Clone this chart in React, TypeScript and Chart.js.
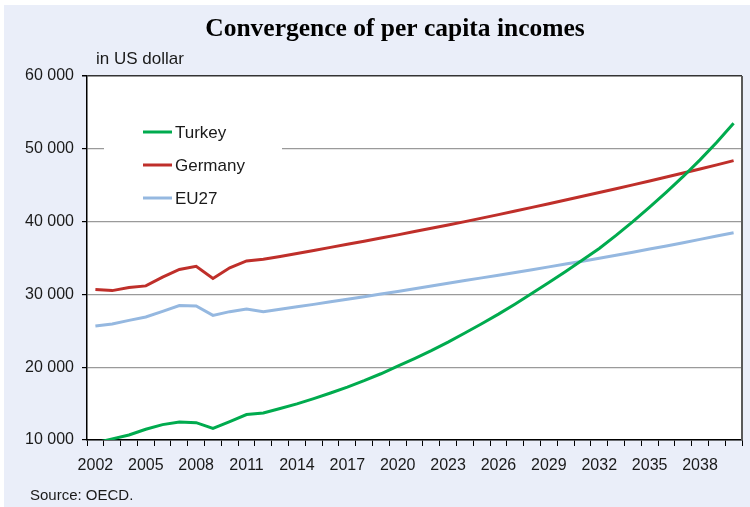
import React, { useEffect, useRef } from "react";
import { Chart, registerables } from "chart.js";

Chart.register(...registerables);

const TITLE = "Convergence of per capita incomes";
const UNIT_LABEL = "in US dollar";
const SOURCE = "Source: OECD.";

const years = [
  "2002", "2003", "2004", "2005", "2006", "2007", "2008", "2009", "2010", "2011",
  "2012", "2013", "2014", "2015", "2016", "2017", "2018", "2019", "2020", "2021",
  "2022", "2023", "2024", "2025", "2026", "2027", "2028", "2029", "2030", "2031",
  "2032", "2033", "2034", "2035", "2036", "2037", "2038", "2039", "2040",
];

const shownYearLabels = ["2002", "2005", "2008", "2011", "2014", "2017", "2020", "2023", "2026", "2029", "2032", "2035", "2038"];

const turkey = [
  9600, 10150, 10690, 11470, 12110, 12480, 12380, 11600, 12520, 13490,
  13720, 14330, 14960, 15690, 16460, 17270, 18150, 19100, 20150, 21180,
  22270, 23450, 24700, 25970, 27290, 28690, 30150, 31620, 33150, 34720,
  36300, 38100, 40000, 41990, 44050, 46200, 48480, 50900, 53500,
];

const germany = [
  30660, 30520, 30940, 31170, 32360, 33420, 33870, 32180, 33650, 34600,
  34820, 35220, 35630, 36040, 36460, 36880, 37310, 37740, 38180, 38630,
  39080, 39540, 40000, 40480, 40960, 41450, 41950, 42450, 42960, 43470,
  43990, 44510, 45040, 45580, 46120, 46670, 47220, 47790, 48370,
];

const eu27 = [
  25660, 25940, 26430, 26900, 27670, 28460, 28410, 27120, 27630, 27990,
  27620, 27950, 28290, 28630, 28980, 29330, 29690, 30050, 30410, 30780,
  31150, 31520, 31900, 32270, 32640, 33020, 33400, 33780, 34170, 34560,
  34960, 35380, 35800, 36230, 36660, 37100, 37560, 38020, 38480,
];

const seriesNames = ["Turkey", "Germany", "EU27"];
const seriesColors = ["#00ab4e", "#bf2f2a", "#95b8e0"];

const yMin = 10000;
const yMax = 60000;
const yStep = 10000;

const SANS = '"Liberation Sans", Arial, sans-serif';
const SERIF = '"Liberation Serif", "Times New Roman", serif';
const TEXT_COLOR = "#1a1a1a";

const fmt = (v: number) => String(v).replace(/\B(?=(\d{3})+(?!\d))/g, " ");

const decorPlugin = {
  id: "decor",
  beforeDraw(chart: any) {
    const { ctx, chartArea } = chart;
    ctx.save();
    ctx.fillStyle = "#ffffff";
    ctx.fillRect(chartArea.left, chartArea.top, chartArea.right - chartArea.left, chartArea.bottom - chartArea.top);
    ctx.restore();
  },
  afterDraw(chart: any) {
    const { ctx, chartArea } = chart;
    ctx.save();
    // right border of plot
    ctx.strokeStyle = "#5a5a5a";
    ctx.lineWidth = 2;
    ctx.beginPath();
    ctx.moveTo(chartArea.right, chartArea.top);
    ctx.lineTo(chartArea.right, chartArea.bottom);
    ctx.stroke();

    // title
    ctx.fillStyle = "#000";
    ctx.font = `bold 25.5px ${SERIF}`;
    ctx.textAlign = "center";
    ctx.textBaseline = "alphabetic";
    ctx.fillText(TITLE, 395, 36);

    // unit label
    ctx.fillStyle = TEXT_COLOR;
    ctx.font = `17px ${SANS}`;
    ctx.textAlign = "left";
    ctx.fillText(UNIT_LABEL, 96, 64);

    // source
    ctx.font = `15px ${SANS}`;
    ctx.fillText(SOURCE, 30, 500);

    // legend
    ctx.fillStyle = "#ffffff";
    ctx.fillRect(104, 112, 178, 104);
    const datasets = chart.data.datasets;
    datasets.forEach((ds: any, i: number) => {
      const y = 132 + i * 33;
      ctx.strokeStyle = ds.borderColor;
      ctx.lineWidth = 3;
      ctx.beginPath();
      ctx.moveTo(143, y);
      ctx.lineTo(172, y);
      ctx.stroke();
      ctx.fillStyle = TEXT_COLOR;
      ctx.font = `17px ${SANS}`;
      ctx.textAlign = "left";
      ctx.textBaseline = "middle";
      ctx.fillText(ds.label, 175, y + 1);
    });
    ctx.restore();
  },
};

export default function App() {
  const ref = useRef<HTMLCanvasElement | null>(null);

  useEffect(() => {
    if (!ref.current) return;
    const seriesData = [turkey, germany, eu27];
    const chart = new Chart(ref.current, {
      type: "line",
      data: {
        labels: years,
        datasets: seriesNames.map((name, i) => ({
          label: name,
          data: seriesData[i],
          borderColor: seriesColors[i],
          backgroundColor: seriesColors[i],
          borderWidth: 3,
          pointRadius: 0,
          tension: 0,
          clip: 0,
        })),
      },
      options: {
        animation: false,
        responsive: false,
        devicePixelRatio: 1,
        layout: { padding: { top: 76, right: 8, left: 0, bottom: 0 } },
        plugins: {
          legend: { display: false },
          title: { display: false },
          tooltip: { enabled: false },
        },
        scales: {
          x: {
            type: "category",
            offset: true,
            afterFit: (scale: any) => {
              scale.height = 67;
            },
            grid: {
              offset: true,
              drawOnChartArea: false,
              drawTicks: true,
              tickLength: 6,
              tickColor: "#000",
              tickWidth: 1,
            },
            border: { display: true, color: "#000", width: 1.5 },
            ticks: {
              autoSkip: false,
              maxRotation: 0,
              padding: 10,
              color: TEXT_COLOR,
              font: { family: SANS, size: 16 },
              callback: (_v: any, idx: number) =>
                shownYearLabels.includes(years[idx]) ? years[idx] : "",
            },
          },
          y: {
            min: yMin,
            max: yMax,
            afterFit: (scale: any) => {
              scale.width = 87;
            },
            grid: {
              color: (c: any) => (c.tick && c.tick.value === yMax ? "#333" : "#9a9a9a"),
              lineWidth: (c: any) => (c.tick && c.tick.value === yMax ? 1.5 : 1.2),
              drawTicks: true,
              tickLength: 5,
              tickColor: "#000",
            },
            border: { display: true, color: "#000", width: 1.5 },
            ticks: {
              stepSize: yStep,
              padding: 8,
              color: TEXT_COLOR,
              font: { family: SANS, size: 16 },
              callback: (v: any) => fmt(Number(v)),
            },
          },
        },
      },
      plugins: [decorPlugin],
    });
    return () => chart.destroy();
  }, []);

  return (
    <div style={{ position: "fixed", left: 0, top: 0, width: 750, height: 507, background: "#ffffff" }}>
      <div style={{ position: "absolute", left: 4, top: 5, width: 746, height: 502, background: "#eaeef9" }} />
      <canvas ref={ref} width={750} height={507} style={{ position: "absolute", left: 0, top: 0, width: 750, height: 507 }} />
    </div>
  );
}
